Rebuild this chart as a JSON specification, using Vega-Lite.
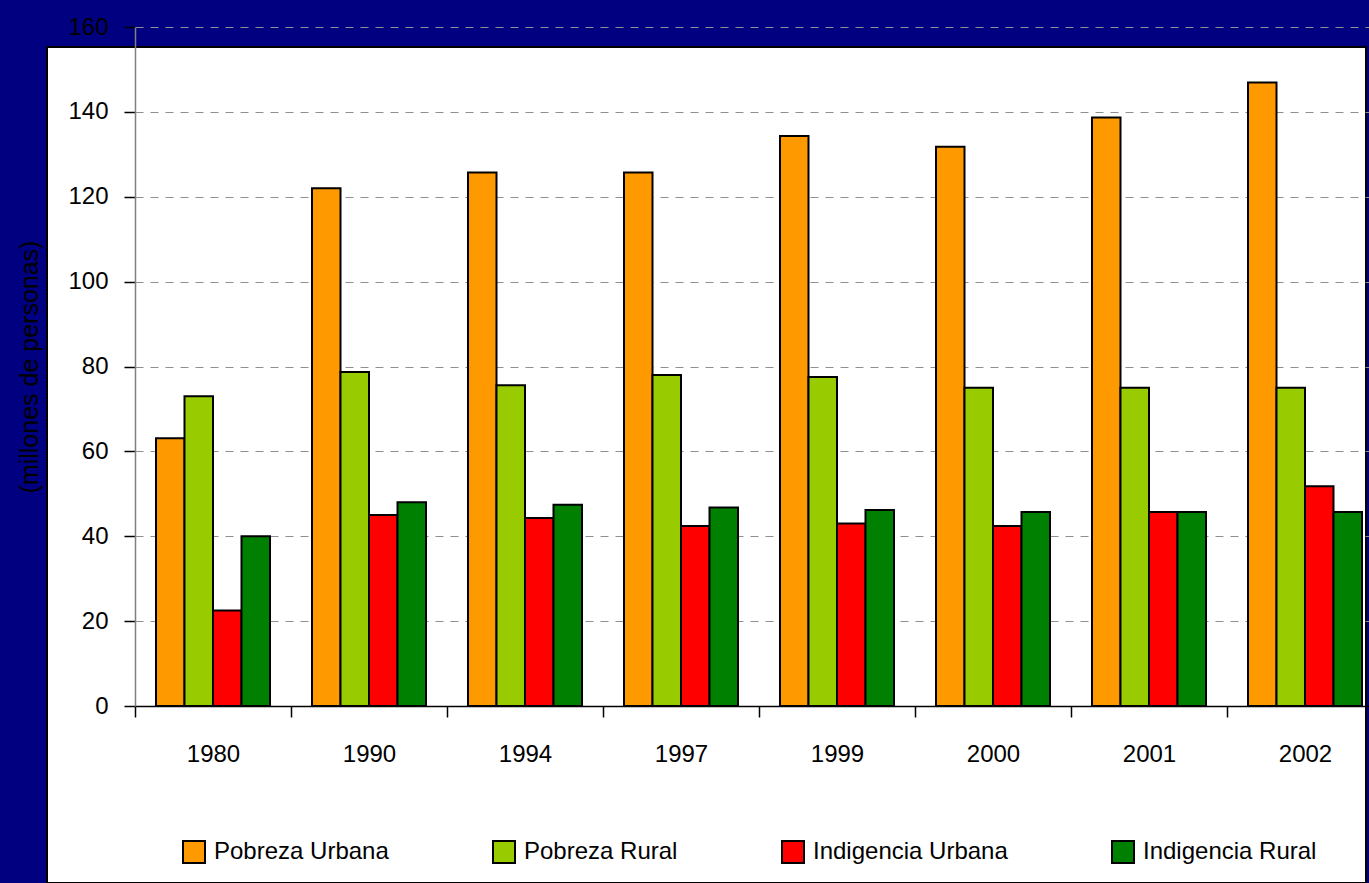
{
  "$schema": "https://vega.github.io/schema/vega-lite/v6.json",
  "width": 1319,
  "height": 836,
  "autosize": {"type": "none"},
  "padding": {"left": 47, "top": 47, "right": 3, "bottom": 0},
  "background": "#000080",
  "data": {
    "values": [
      {"anio": "1980", "serie": "Pobreza Urbana", "valor": 63.1},
      {"anio": "1980", "serie": "Pobreza Rural", "valor": 73.0},
      {"anio": "1980", "serie": "Indigencia Urbana", "valor": 22.5},
      {"anio": "1980", "serie": "Indigencia Rural", "valor": 40.0},
      {"anio": "1990", "serie": "Pobreza Urbana", "valor": 122.0},
      {"anio": "1990", "serie": "Pobreza Rural", "valor": 78.7},
      {"anio": "1990", "serie": "Indigencia Urbana", "valor": 45.0},
      {"anio": "1990", "serie": "Indigencia Rural", "valor": 48.0},
      {"anio": "1994", "serie": "Pobreza Urbana", "valor": 125.7},
      {"anio": "1994", "serie": "Pobreza Rural", "valor": 75.6},
      {"anio": "1994", "serie": "Indigencia Urbana", "valor": 44.3},
      {"anio": "1994", "serie": "Indigencia Rural", "valor": 47.4},
      {"anio": "1997", "serie": "Pobreza Urbana", "valor": 125.7},
      {"anio": "1997", "serie": "Pobreza Rural", "valor": 78.0},
      {"anio": "1997", "serie": "Indigencia Urbana", "valor": 42.4},
      {"anio": "1997", "serie": "Indigencia Rural", "valor": 46.8},
      {"anio": "1999", "serie": "Pobreza Urbana", "valor": 134.3},
      {"anio": "1999", "serie": "Pobreza Rural", "valor": 77.5},
      {"anio": "1999", "serie": "Indigencia Urbana", "valor": 43.0},
      {"anio": "1999", "serie": "Indigencia Rural", "valor": 46.2},
      {"anio": "2000", "serie": "Pobreza Urbana", "valor": 131.8},
      {"anio": "2000", "serie": "Pobreza Rural", "valor": 75.0},
      {"anio": "2000", "serie": "Indigencia Urbana", "valor": 42.4},
      {"anio": "2000", "serie": "Indigencia Rural", "valor": 45.7},
      {"anio": "2001", "serie": "Pobreza Urbana", "valor": 138.7},
      {"anio": "2001", "serie": "Pobreza Rural", "valor": 75.0},
      {"anio": "2001", "serie": "Indigencia Urbana", "valor": 45.7},
      {"anio": "2001", "serie": "Indigencia Rural", "valor": 45.7},
      {"anio": "2002", "serie": "Pobreza Urbana", "valor": 146.9},
      {"anio": "2002", "serie": "Pobreza Rural", "valor": 75.0},
      {"anio": "2002", "serie": "Indigencia Urbana", "valor": 51.8},
      {"anio": "2002", "serie": "Indigencia Rural", "valor": 45.7}
    ]
  },
  "mark": {"type": "bar", "stroke": "black", "strokeWidth": 2},
  "encoding": {
    "x": {
      "field": "anio",
      "type": "nominal",
      "scale": {"range": [88, 1336], "paddingInner": 0, "paddingOuter": 0},
      "axis": {
        "title": null,
        "labelAngle": 0,
        "tickBand": "extent",
        "offset": -177,
        "grid": false,
        "domainColor": "black",
        "domainWidth": 1.5,
        "tickColor": "black",
        "tickWidth": 1.5,
        "tickSize": 11,
        "labelFontSize": 24,
        "labelPadding": 25,
        "labelColor": "black"
      }
    },
    "xOffset": {
      "field": "serie",
      "sort": ["Pobreza Urbana", "Pobreza Rural", "Indigencia Urbana", "Indigencia Rural"],
      "scale": {"paddingInner": 0, "paddingOuter": 0.737}
    },
    "y": {
      "field": "valor",
      "type": "quantitative",
      "scale": {"domain": [0, 160], "range": [659, -20], "nice": false},
      "axis": {
        "title": "(millones de personas)",
        "values": [0, 20, 40, 60, 80, 100, 120, 140, 160],
        "offset": -88,
        "grid": true,
        "gridDash": [8, 7],
        "gridColor": "#909090",
        "gridWidth": 1.2,
        "domainColor": "#808080",
        "domainWidth": 1.5,
        "tickColor": "black",
        "tickWidth": 1.5,
        "tickSize": 11,
        "labelFontSize": 24,
        "labelPadding": 16,
        "labelColor": "black",
        "titleFontSize": 25,
        "titleFontWeight": "normal",
        "titleColor": "black",
        "titleAngle": -90,
        "titleAlign": "center",
        "titleBaseline": "alphabetic",
        "titleX": -98,
        "titleY": 319.5
      }
    },
    "color": {
      "field": "serie",
      "type": "nominal",
      "sort": ["Pobreza Urbana", "Pobreza Rural", "Indigencia Urbana", "Indigencia Rural"],
      "scale": {
        "domain": ["Pobreza Urbana", "Pobreza Rural", "Indigencia Urbana", "Indigencia Rural"],
        "range": ["#ff9900", "#99cc00", "#ff0000", "#008000"]
      },
      "legend": {
        "orient": "none",
        "legendX": 135,
        "legendY": 793,
        "direction": "horizontal",
        "title": null,
        "padding": 0,
        "symbolType": "square",
        "symbolSize": 484,
        "symbolStrokeColor": "black",
        "symbolStrokeWidth": 2,
        "symbolOpacity": 1,
        "labelFontSize": 24,
        "labelOffset": 8,
        "labelLimit": 500,
        "labelColor": "black",
        "columnPadding": 100
      }
    }
  },
  "config": {
    "font": "Liberation Sans",
    "view": {"fill": "white", "stroke": "black", "strokeWidth": 2}
  }
}
